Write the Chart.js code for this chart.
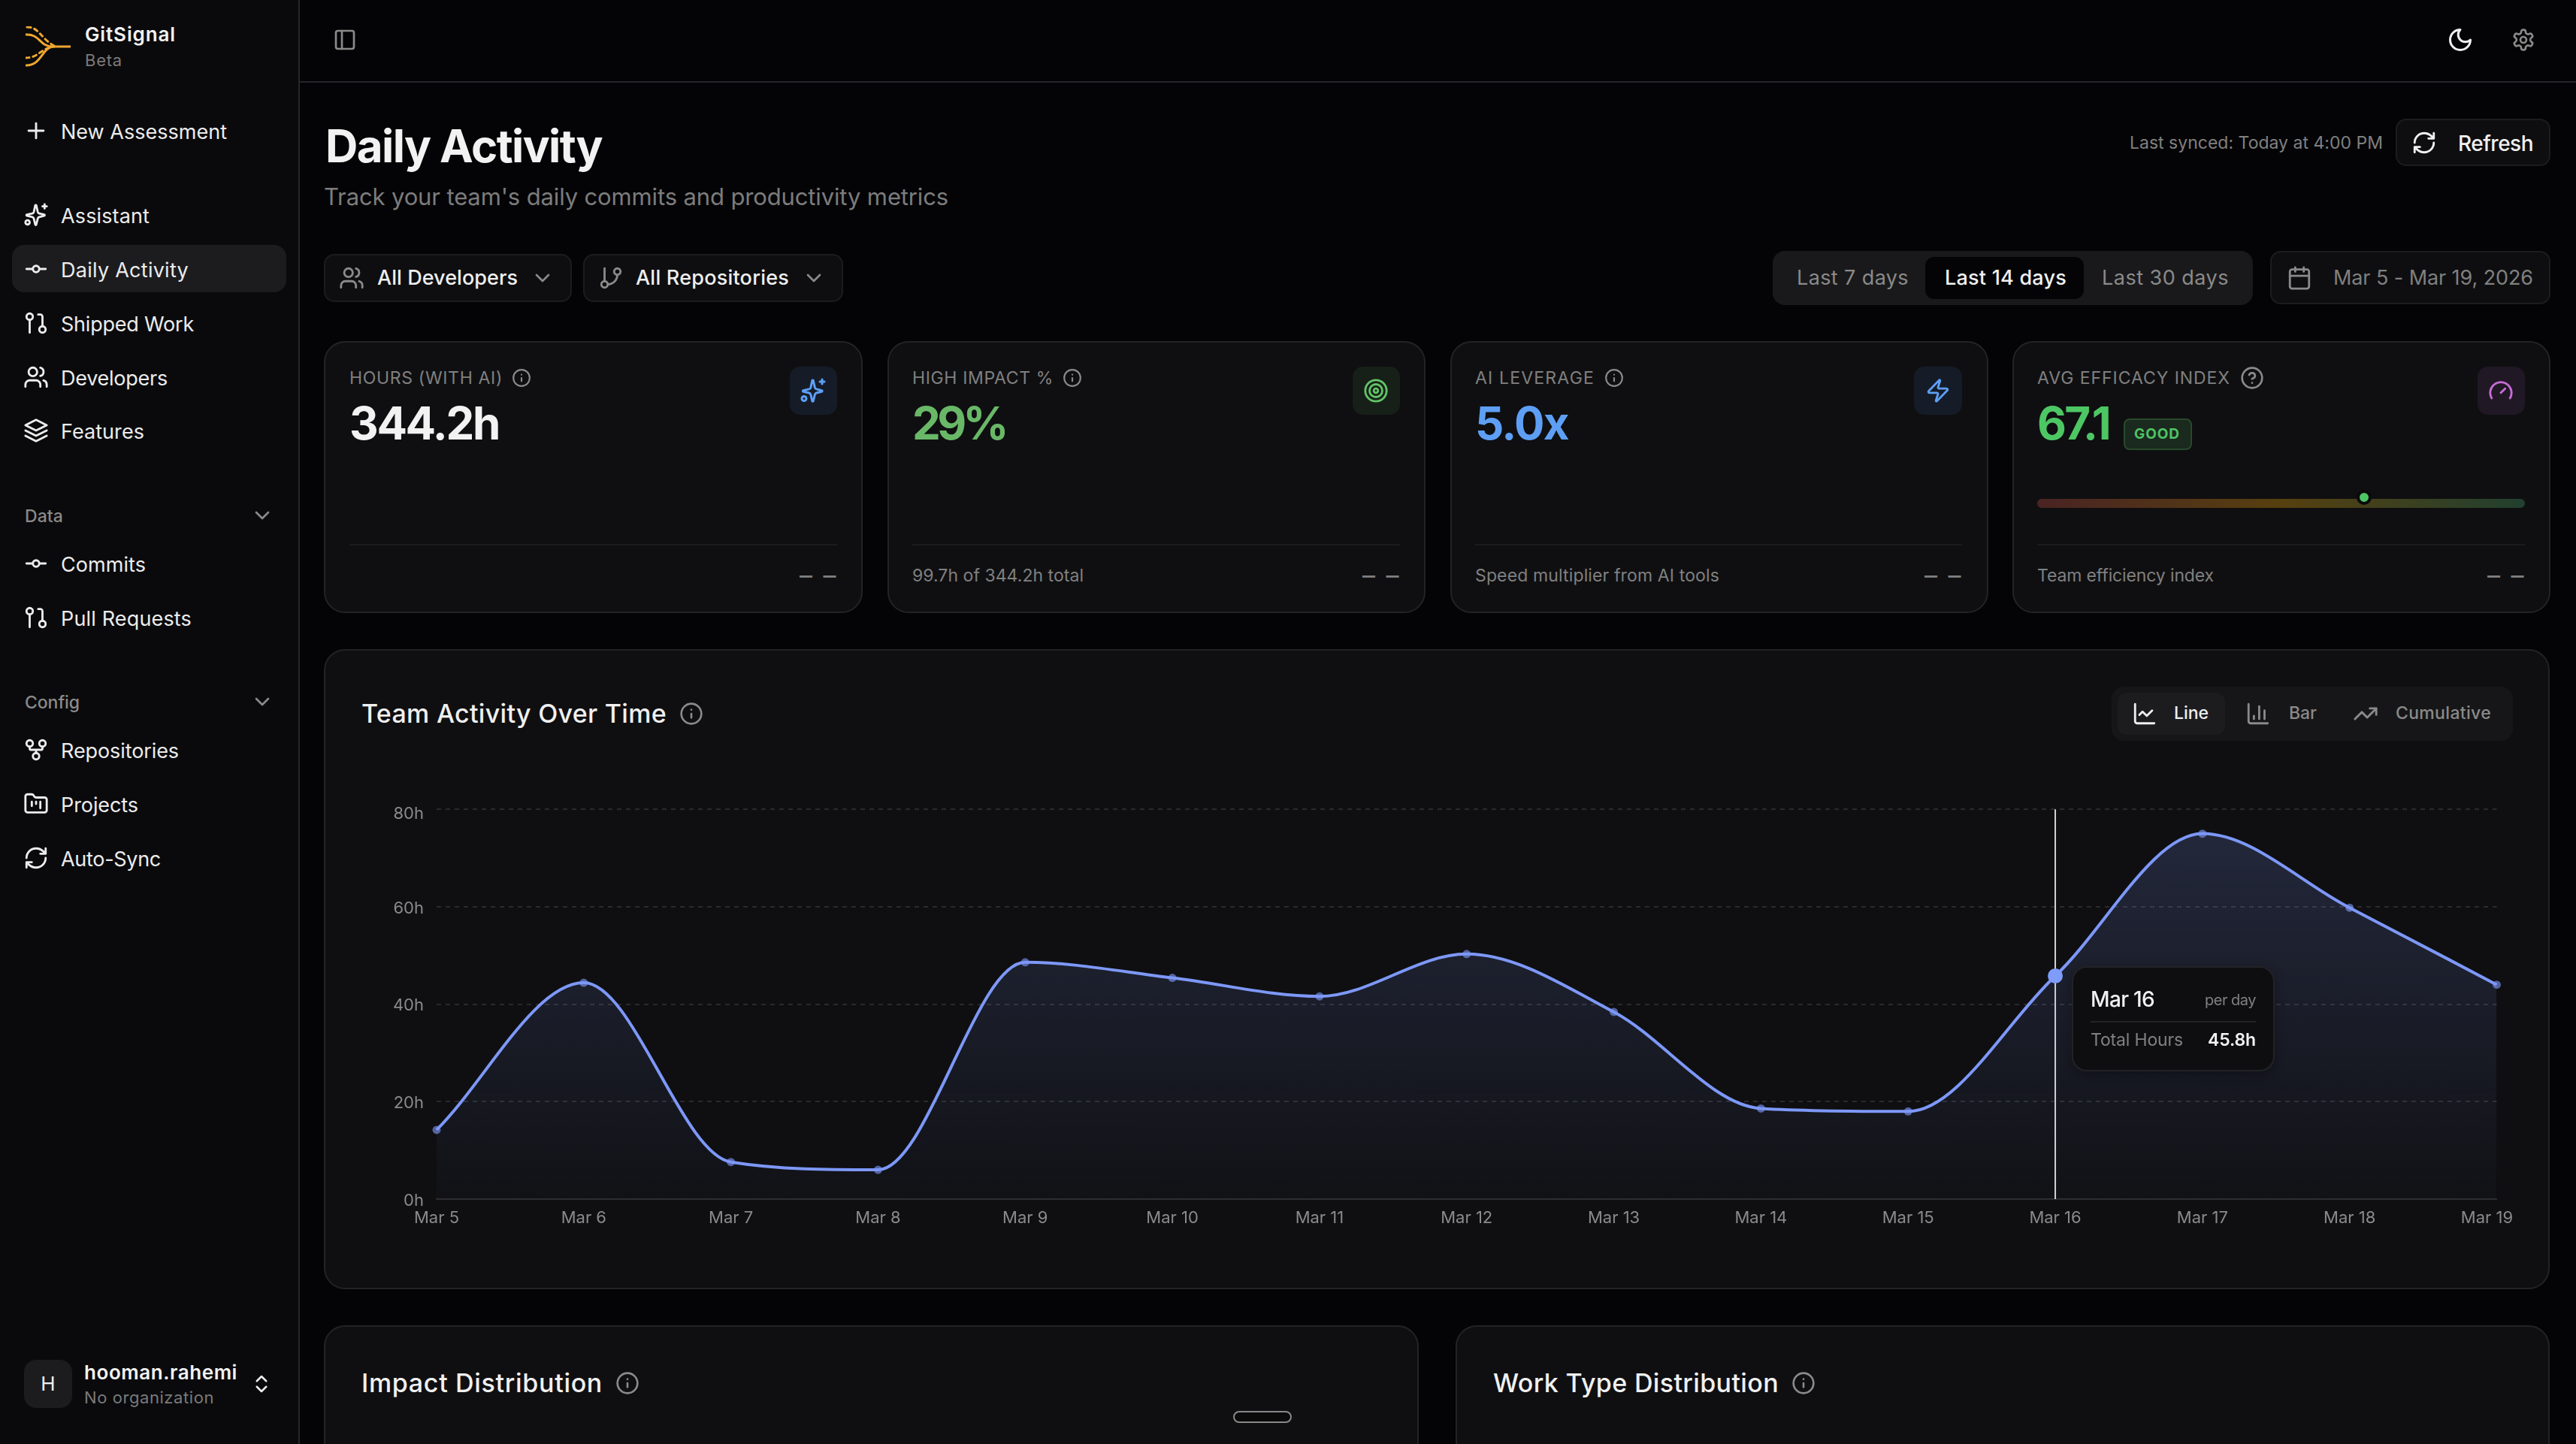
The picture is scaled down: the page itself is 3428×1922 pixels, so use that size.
<!DOCTYPE html>
<html lang="en">
<head>
<meta charset="UTF-8">
<title>GitSignal - Daily Activity</title>
<script src="https://cdn.jsdelivr.net/npm/chart.js"></script>
<style>
    html, body { margin: 0; padding: 0; background: #040406; }
    body { position: relative; width: 3428px; height: 1922px; overflow: hidden; font-family: Inter, "Noto Sans", sans-serif; color: #eeeeee; }
    .t { position: absolute; white-space: nowrap; transform: translateY(-50%); line-height: 1.2; }
    .i { position: absolute; transform: translate(-50%, -50%); fill: none; stroke: currentColor; stroke-width: 2; stroke-linecap: round; stroke-linejoin: round; }
    .box { position: absolute; box-sizing: border-box; }
    .card { background: #0f0f11; border: 2px solid #232326; border-radius: 28px; }
    .btn { background: #0e0e10; border: 2px solid #1c1c1f; border-radius: 14px; }
    .nav { font-size: 27px; color: #ececec; margin-top: 2px; }
    .nav-i { color: #ececec; }
    .sec { font-size: 23px; font-weight: 500; color: #8a8a8a; margin-top: 2px; }
    .label { font-size: 23px; color: #808080; margin-top: 1px; }
    .value { font-size: 60px; font-weight: 700; }
    .foot { font-size: 23px; color: #808080; margin-top: 1px; }
    .dash { font-size: 34px; color: #808080; }
    .h2 { font-size: 34px; font-weight: 500; color: #f0f0f0; }
    .tile { border-radius: 14px; }
    .rule { background: #1b1b1e; height: 2px; }
    #tip { position: absolute; width: 270px; height: 140px; box-sizing: border-box; background: #0e0e10; border: 2px solid #232326; border-radius: 20px; box-shadow: 0 4px 14px rgba(0,0,0,.3); }
</style>
</head>
<body>
<svg width="0" height="0" style="position:absolute">
    <symbol id="plus" viewBox="0 0 24 24"><path d="M5 12h14M12 5v14"/></symbol>
    <symbol id="sparkles" viewBox="0 0 24 24"><path d="M9.9 15.5A2 2 0 0 0 8.5 14l-5.1-1.2a.5.5 0 0 1 0-1L8.5 10.6A2 2 0 0 0 9.9 9.2l1.3-6a.5.5 0 0 1 1 0L13.6 9.2A2 2 0 0 0 15 10.6l4.6 1.2a.5.5 0 0 1 0 1L15 14a2 2 0 0 0-1.4 1.4l-1.4 5.6a.5.5 0 0 1-1 0z"/><path d="M20 2v4M22 4h-4"/><circle cx="4" cy="19" r="2"/></symbol>
    <symbol id="commit" viewBox="0 0 24 24"><circle cx="12" cy="12" r="3"/><path d="M3 12h6M15 12h6"/></symbol>
    <symbol id="pull" viewBox="0 0 24 24"><circle cx="6" cy="6" r="3"/><path d="M6 9v12"/><circle cx="18" cy="18" r="3"/><path d="M14 4h2a2 2 0 0 1 2 2v9"/></symbol>
    <symbol id="users" viewBox="0 0 24 24"><path d="M16 21v-2a4 4 0 0 0-4-4H6a4 4 0 0 0-4 4v2"/><circle cx="9" cy="7" r="4"/><path d="M22 21v-2a4 4 0 0 0-3-3.87M16 3.13a4 4 0 0 1 0 7.75"/></symbol>
    <symbol id="layers" viewBox="0 0 24 24"><path d="M12 2 2 7l10 5 10-5-10-5z"/><path d="M2 17l10 5 10-5"/><path d="M2 12l10 5 10-5"/></symbol>
    <symbol id="down" viewBox="0 0 24 24"><path d="m6 9 6 6 6-6"/></symbol>
    <symbol id="fork" viewBox="0 0 24 24"><circle cx="12" cy="18" r="3"/><circle cx="6" cy="6" r="3"/><circle cx="18" cy="6" r="3"/><path d="M18 9v2c0 .6-.4 1-1 1H7c-.6 0-1-.4-1-1V9M12 12v3"/></symbol>
    <symbol id="branch" viewBox="0 0 24 24"><path d="M6 3v12"/><circle cx="18" cy="6" r="3"/><circle cx="6" cy="18" r="3"/><path d="M18 9a9 9 0 0 1-9 9"/></symbol>
    <symbol id="folder" viewBox="0 0 24 24"><path d="M4 20h16a2 2 0 0 0 2-2V8a2 2 0 0 0-2-2h-7.93a2 2 0 0 1-1.66-.9l-.82-1.2A2 2 0 0 0 7.93 3H4a2 2 0 0 0-2 2v13c0 1.1.9 2 2 2Z"/><path d="M8 10v4M12 10v2M16 10v6"/></symbol>
    <symbol id="refresh" viewBox="0 0 24 24"><path d="M3 12a9 9 0 0 1 9-9 9.75 9.75 0 0 1 6.74 2.74L21 8M21 3v5h-5M21 12a9 9 0 0 1-9 9 9.75 9.75 0 0 1-6.74-2.74L3 16M8 16H3v5"/></symbol>
    <symbol id="updown" viewBox="0 0 24 24"><path d="m7 15 5 5 5-5M7 9l5-5 5 5"/></symbol>
    <symbol id="panel" viewBox="0 0 24 24"><rect x="3" y="3" width="18" height="18" rx="2"/><path d="M9 3v18"/></symbol>
    <symbol id="moon" viewBox="0 0 24 24"><path d="M12 3a6 6 0 0 0 9 9 9 9 0 1 1-9-9Z"/></symbol>
    <symbol id="gear" viewBox="0 0 24 24"><path d="M12.22 2h-.44a2 2 0 0 0-2 2v.18a2 2 0 0 1-1 1.73l-.43.25a2 2 0 0 1-2 0l-.15-.08a2 2 0 0 0-2.73.73l-.22.38a2 2 0 0 0 .73 2.73l.15.1a2 2 0 0 1 1 1.72v.51a2 2 0 0 1-1 1.74l-.15.09a2 2 0 0 0-.73 2.73l.22.38a2 2 0 0 0 2.73.73l.15-.08a2 2 0 0 1 2 0l.43.25a2 2 0 0 1 1 1.73V20a2 2 0 0 0 2 2h.44a2 2 0 0 0 2-2v-.18a2 2 0 0 1 1-1.73l.43-.25a2 2 0 0 1 2 0l.15.08a2 2 0 0 0 2.73-.73l.22-.39a2 2 0 0 0-.73-2.73l-.15-.08a2 2 0 0 1-1-1.74v-.5a2 2 0 0 1 1-1.74l.15-.09a2 2 0 0 0 .73-2.73l-.22-.38a2 2 0 0 0-2.73-.73l-.15.08a2 2 0 0 1-2 0l-.43-.25a2 2 0 0 1-1-1.73V4a2 2 0 0 0-2-2z"/><circle cx="12" cy="12" r="3"/></symbol>
    <symbol id="info" viewBox="0 0 24 24"><circle cx="12" cy="12" r="10"/><path d="M12 16v-4M12 8h.01"/></symbol>
    <symbol id="help" viewBox="0 0 24 24"><circle cx="12" cy="12" r="10"/><path d="M9.09 9a3 3 0 0 1 5.83 1c0 2-3 3-3 3M12 17h.01"/></symbol>
    <symbol id="target" viewBox="0 0 24 24"><circle cx="12" cy="12" r="10"/><circle cx="12" cy="12" r="6"/><circle cx="12" cy="12" r="2"/></symbol>
    <symbol id="zap" viewBox="0 0 24 24"><path d="M4 14a1 1 0 0 1-.78-1.63l9.9-10.2a.5.5 0 0 1 .86.46l-1.92 6.02A1 1 0 0 0 13 10h7a1 1 0 0 1 .78 1.63l-9.9 10.2a.5.5 0 0 1-.86-.46l1.92-6.02A1 1 0 0 0 11 14z"/></symbol>
    <symbol id="gauge" viewBox="0 0 24 24"><path d="m12 14 4-4M3.34 19a10 10 0 1 1 17.32 0"/></symbol>
    <symbol id="calendar" viewBox="0 0 24 24"><path d="M8 2v4M16 2v4"/><rect x="3" y="4" width="18" height="18" rx="2"/><path d="M3 10h18"/></symbol>
    <symbol id="chartline" viewBox="0 0 24 24"><path d="M3 3v16a2 2 0 0 0 2 2h16"/><path d="m19 9-5 5-4-4-3 3"/></symbol>
    <symbol id="chartbar" viewBox="0 0 24 24"><path d="M3 3v16a2 2 0 0 0 2 2h16"/><path d="M8 17v-3M13 17V5M18 17V9"/></symbol>
    <symbol id="trend" viewBox="0 0 24 24"><path d="M22 7l-8.5 8.5-5-5L2 17"/><path d="M16 7h6v6"/></symbol>
</svg>

<!-- Sidebar -->
<div class="box" style="left:0;top:0;width:399px;height:1922px;background:#0a0a0c;border-right:2px solid #26262a"></div>
<svg class="box" style="left:34px;top:35px" width="60" height="54" viewBox="0 0 60 54" fill="none" stroke="#f0a72f" stroke-width="3" stroke-linecap="round">
    <path d="M0 11C20 10 18 27 36 27H60"/>
    <path d="M1 52C22 52 22 27 38 27"/>
    <path d="M2 1C18 1 20 16 38 26" stroke-dasharray="5 5"/>
    <path d="M0 42C14 42 18 34 30 29" stroke-dasharray="5 5"/>
</svg>
<div class="t" data-w="121" style="left:113px;top:46px;font-size:26px;font-weight:600;color:#f2f2f2">GitSignal</div>
<div class="t" data-w="50" style="left:113px;top:80px;font-size:22px;color:#7a7a7a">Beta</div>

<svg class="i nav-i" style="left:48px;top:174px" width="34" height="34"><use href="#plus"/></svg>
<div class="t nav" data-w="221" style="left:81px;top:174px">New Assessment</div>

<div class="box" style="left:16px;top:326px;width:365px;height:63px;background:#1c1c1f;border-radius:16px"></div>
<svg class="i nav-i" style="left:48px;top:286px" width="34" height="34"><use href="#sparkles"/></svg>
<div class="t nav" data-w="118" style="left:81px;top:286px">Assistant</div>
<svg class="i nav-i" style="left:48px;top:358px" width="34" height="34"><use href="#commit"/></svg>
<div class="t nav" data-w="170" style="left:81px;top:358px">Daily Activity</div>
<svg class="i nav-i" style="left:48px;top:430px" width="34" height="34"><use href="#pull"/></svg>
<div class="t nav" data-w="177" style="left:81px;top:430px">Shipped Work</div>
<svg class="i nav-i" style="left:48px;top:502px" width="34" height="34"><use href="#users"/></svg>
<div class="t nav" data-w="142" style="left:81px;top:502px">Developers</div>
<svg class="i nav-i" style="left:48px;top:573px" width="34" height="34"><use href="#layers"/></svg>
<div class="t nav" data-w="111" style="left:81px;top:573px">Features</div>

<div class="t sec" data-w="51" style="left:33px;top:686px">Data</div>
<svg class="i" style="left:349px;top:686px;color:#8a8a8a" width="32" height="32"><use href="#down"/></svg>
<svg class="i nav-i" style="left:48px;top:750px" width="34" height="34"><use href="#commit"/></svg>
<div class="t nav" data-w="113" style="left:81px;top:750px">Commits</div>
<svg class="i nav-i" style="left:48px;top:822px" width="34" height="34"><use href="#pull"/></svg>
<div class="t nav" data-w="174" style="left:81px;top:822px">Pull Requests</div>

<div class="t sec" data-w="73" style="left:33px;top:934px">Config</div>
<svg class="i" style="left:349px;top:934px;color:#8a8a8a" width="32" height="32"><use href="#down"/></svg>
<svg class="i nav-i" style="left:48px;top:998px" width="34" height="34"><use href="#fork"/></svg>
<div class="t nav" data-w="157" style="left:81px;top:998px">Repositories</div>
<svg class="i nav-i" style="left:48px;top:1070px" width="34" height="34"><use href="#folder"/></svg>
<div class="t nav" data-w="103" style="left:81px;top:1070px">Projects</div>
<svg class="i nav-i" style="left:48px;top:1142px" width="34" height="34"><use href="#refresh"/></svg>
<div class="t nav" data-w="133" style="left:81px;top:1142px">Auto-Sync</div>

<div class="box" style="left:32px;top:1810px;width:64px;height:64px;background:#1c1c1f;border-radius:16px"></div>
<div class="t" style="left:64px;top:1842px;font-size:26px;color:#eeeeee;transform:translate(-50%,-50%)">H</div>
<div class="t" data-w="204" style="left:112px;top:1827px;font-size:26px;font-weight:600;color:#f2f2f2">hooman.rahemi</div>
<div class="t" data-w="173" style="left:112px;top:1860px;font-size:22px;color:#7a7a7a">No organization</div>
<svg class="i" style="left:348px;top:1842px;color:#eeeeee" width="30" height="30"><use href="#updown"/></svg>

<!-- Top bar -->
<div class="box" style="left:399px;top:108px;width:3029px;height:2px;background:#26262a"></div>
<svg class="i" style="left:459px;top:53px;color:#8a8a8a" width="32" height="32"><use href="#panel"/></svg>
<svg class="i" style="left:3274px;top:53px;color:#f0f0f0" width="36" height="36"><use href="#moon"/></svg>
<svg class="i" style="left:3358px;top:53px;color:#8a8a8a" width="32" height="32"><use href="#gear"/></svg>

<!-- Page header -->
<div class="t" data-w="368" style="left:433px;top:194px;font-size:60px;font-weight:700;color:#f2f2f2">Daily Activity</div>
<div class="t" data-w="831" style="left:431px;top:262px;font-size:31px;color:#7c7c7c">Track your team's daily commits and productivity metrics</div>
<div class="t" data-w="337" style="left:2834px;top:191px;font-size:23px;color:#808080">Last synced: Today at 4:00 PM</div>
<div class="box btn" style="left:3188px;top:158px;width:206px;height:63px"></div>
<svg class="i" style="left:3226px;top:190px;color:#f0f0f0" width="34" height="34"><use href="#refresh"/></svg>
<div class="t" data-w="100" style="left:3271px;top:192px;font-size:28px;font-weight:500;color:#f0f0f0">Refresh</div>

<!-- Filters -->
<div class="box btn" style="left:431px;top:338px;width:330px;height:64px"></div>
<svg class="i" style="left:468px;top:370px;color:#8a8a8a" width="34" height="34"><use href="#users"/></svg>
<div class="t" data-w="187" style="left:502px;top:370px;font-size:27px;font-weight:500;color:#eeeeee">All Developers</div>
<svg class="i" style="left:722px;top:370px;color:#8a8a8a" width="32" height="32"><use href="#down"/></svg>
<div class="box btn" style="left:776px;top:338px;width:346px;height:64px"></div>
<svg class="i" style="left:813px;top:370px;color:#8a8a8a" width="34" height="34"><use href="#branch"/></svg>
<div class="t" data-w="204" style="left:846px;top:370px;font-size:27px;font-weight:500;color:#eeeeee">All Repositories</div>
<svg class="i" style="left:1083px;top:370px;color:#8a8a8a" width="32" height="32"><use href="#down"/></svg>

<div class="box" style="left:2359px;top:334px;width:639px;height:72px;background:#19191b;border-radius:16px"></div>
<div class="box" style="left:2562px;top:342px;width:211px;height:56px;background:#040406;border-radius:12px"></div>
<div class="t" data-w="149" style="left:2391px;top:370px;font-size:27px;color:#8a8a8a">Last 7 days</div>
<div class="t" data-w="162" style="left:2588px;top:370px;font-size:27px;font-weight:500;color:#f0f0f0">Last 14 days</div>
<div class="t" data-w="169" style="left:2797px;top:370px;font-size:27px;color:#8a8a8a">Last 30 days</div>
<div class="box btn" style="left:3021px;top:334px;width:373px;height:71px"></div>
<svg class="i" style="left:3060px;top:370px;color:#8a8a8a" width="34" height="34"><use href="#calendar"/></svg>
<div class="t" data-w="266" style="left:3105px;top:370px;font-size:27px;color:#808080">Mar 5 - Mar 19, 2026</div>

<!-- KPI cards -->
<div class="box card" style="left:431px;top:454px;width:717px;height:362px"></div>
<div class="box card" style="left:1181px;top:454px;width:716px;height:362px"></div>
<div class="box card" style="left:1930px;top:454px;width:716px;height:362px"></div>
<div class="box card" style="left:2678px;top:454px;width:716px;height:362px"></div>

<div class="t label" data-w="204" style="left:465px;top:503px">HOURS (WITH AI)</div>
<svg class="i" style="left:694px;top:503px;color:#8a8a8a" width="26" height="26"><use href="#info"/></svg>
<div class="t value" data-w="199" style="left:465px;top:563px;color:#f2f2f2">344.2h</div>
<div class="box tile" style="left:1051px;top:488px;width:63px;height:64px;background:#151c28"></div>
<svg class="i" style="left:1082px;top:520px;color:#5e9ff5" width="36" height="36"><use href="#sparkles"/></svg>
<div class="box rule" style="left:465px;top:724px;width:649px"></div>
<div class="t dash" data-w="51" style="right:2313px;top:766px">– –</div>

<div class="t label" data-w="188" style="left:1214px;top:503px">HIGH IMPACT %</div>
<svg class="i" style="left:1427px;top:503px;color:#8a8a8a" width="26" height="26"><use href="#info"/></svg>
<div class="t value" data-w="124" style="left:1214px;top:563px;color:#69b868">29%</div>
<div class="box tile" style="left:1800px;top:488px;width:63px;height:64px;background:#172018"></div>
<svg class="i" style="left:1831px;top:520px;color:#62c467" width="34" height="34"><use href="#target"/></svg>
<div class="box rule" style="left:1214px;top:724px;width:649px"></div>
<div class="t foot" data-w="228" style="left:1214px;top:766px">99.7h of 344.2h total</div>
<div class="t dash" data-w="51" style="right:1564px;top:766px">– –</div>

<div class="t label" data-w="159" style="left:1963px;top:503px">AI LEVERAGE</div>
<svg class="i" style="left:2148px;top:503px;color:#8a8a8a" width="26" height="26"><use href="#info"/></svg>
<div class="t value" data-w="124" style="left:1963px;top:563px;color:#5e9ff5">5.0x</div>
<div class="box tile" style="left:2547px;top:488px;width:64px;height:64px;background:#151c28"></div>
<svg class="i" style="left:2579px;top:520px;color:#5e9ff5" width="34" height="34"><use href="#zap"/></svg>
<div class="box rule" style="left:1963px;top:724px;width:648px"></div>
<div class="t foot" data-w="325" style="left:1963px;top:766px">Speed multiplier from AI tools</div>
<div class="t dash" data-w="51" style="right:816px;top:766px">– –</div>

<div class="t label" data-w="257" style="left:2711px;top:503px">AVG EFFICACY INDEX</div>
<svg class="i" style="left:2997px;top:503px;color:#8a8a8a" width="32" height="32"><use href="#help"/></svg>
<div class="t value" data-w="96" style="left:2711px;top:563px;color:#4dc764">67.1</div>
<div class="box" style="left:2826px;top:557px;width:91px;height:42px;background:#1a2a1e;border:2px solid #274a2c;border-radius:8px"></div>
<div class="t" data-w="61" style="left:2840px;top:578px;font-size:19px;font-weight:700;color:#4fc365">GOOD</div>
<div class="box" style="left:3297px;top:488px;width:63px;height:64px;background:#211825;border-radius:14px"></div>
<svg class="i" style="left:3328px;top:520px;color:#c86dd7" width="34" height="34"><use href="#gauge"/></svg>
<div class="box" style="left:2711px;top:664px;width:649px;height:12px;border-radius:6px;background:linear-gradient(90deg,#4a2323,#57400f 50%,#21402f)"></div>
<div class="box" style="left:3136px;top:652px;width:20px;height:20px;background:#4dc764;border:4px solid #0a0a0c;border-radius:50%"></div>
<div class="box rule" style="left:2711px;top:724px;width:649px"></div>
<div class="t foot" data-w="235" style="left:2711px;top:766px">Team efficiency index</div>
<div class="t dash" data-w="51" style="right:67px;top:766px">– –</div>

<!-- Team activity card -->
<div class="box card" style="left:431px;top:864px;width:2962px;height:852px"></div>
<div class="t h2" data-w="406" style="left:481px;top:950px">Team Activity Over Time</div>
<svg class="i" style="left:920px;top:950px;color:#8a8a8a" width="32" height="32"><use href="#info"/></svg>
<div class="box" style="left:2810px;top:914px;width:534px;height:72px;background:#161618;border-radius:16px"></div>
<div class="box" style="left:2818px;top:922px;width:143px;height:56px;background:#1c1c1f;border-radius:12px"></div>
<svg class="i" style="left:2854px;top:950px;color:#eeeeee" width="34" height="34"><use href="#chartline"/></svg>
<div class="t" data-w="46" style="left:2893px;top:950px;font-size:23px;font-weight:500;color:#eeeeee">Line</div>
<svg class="i" style="left:3005px;top:950px;color:#8a8a8a" width="34" height="34"><use href="#chartbar"/></svg>
<div class="t" data-w="37" style="left:3046px;top:950px;font-size:23px;font-weight:500;color:#8a8a8a">Bar</div>
<svg class="i" style="left:3148px;top:950px;color:#8a8a8a" width="34" height="34"><use href="#trend"/></svg>
<div class="t" data-w="127" style="left:3188px;top:950px;font-size:23px;font-weight:500;color:#8a8a8a">Cumulative</div>

<canvas id="activityChart" width="2880" height="613" style="position:absolute;left:500px;top:1047px;width:2880px;height:613px"></canvas>

<div id="tip">
    <div class="t" id="tipDay" data-w="85" style="left:23px;top:43px;font-size:28px;font-weight:500;color:#f2f2f2"></div>
    <div class="t" id="tipUnit" data-w="68" style="right:23px;top:43px;font-size:20px;color:#808080"></div>
    <div class="box" style="left:23px;right:23px;top:71px;height:2px;background:#232326"></div>
    <div class="t" id="tipName" data-w="123" style="left:23px;top:97px;font-size:23px;color:#808080"></div>
    <div class="t" id="tipValue" data-w="64" style="right:23px;top:97px;font-size:23px;font-weight:600;color:#f2f2f2"></div>
</div>

<!-- Lower cards, cut off by the window -->
<div class="box card" style="left:431px;top:1764px;width:1457px;height:300px"></div>
<div class="t h2" data-w="321" style="left:481px;top:1841px">Impact Distribution</div>
<svg class="i" style="left:835px;top:1841px;color:#8a8a8a" width="32" height="32"><use href="#info"/></svg>
<div class="box" style="left:1641px;top:1878px;width:78px;height:16px;background:#0a0a0a;border:2px solid #888888;border-radius:8px"></div>
<div class="box card" style="left:1937px;top:1764px;width:1456px;height:300px"></div>
<div class="t h2" data-w="380" style="left:1987px;top:1841px">Work Type Distribution</div>
<svg class="i" style="left:2400px;top:1841px;color:#8a8a8a" width="32" height="32"><use href="#info"/></svg>

<script>
    const days = ['Mar 5', 'Mar 6', 'Mar 7', 'Mar 8', 'Mar 9', 'Mar 10', 'Mar 11', 'Mar 12', 'Mar 13', 'Mar 14', 'Mar 15', 'Mar 16', 'Mar 17', 'Mar 18', 'Mar 19'];
    const totalHours = [14.2, 44.4, 7.6, 6.0, 48.6, 45.4, 41.6, 50.3, 38.4, 18.6, 18.0, 45.8, 75.0, 59.8, 44.0];
    const hourTicks = [0, 20, 40, 60, 80];
    const seriesName = 'Total Hours';
    const tooltipUnit = 'per day';
    const hoveredDay = 'Mar 16';

    const hoveredIndex = days.indexOf(hoveredDay);
    const tickFont = { family: 'Inter', size: 22 };

    function areaFill(context) {
        const chart = context.chart;
        if (!chart.chartArea) return 'transparent';
        const top = chart.scales.y.getPixelForValue(Math.max(...totalHours));
        const bottom = chart.scales.y.getPixelForValue(0);
        const gradient = chart.ctx.createLinearGradient(0, top, 0, bottom);
        gradient.addColorStop(0, 'rgba(125,152,248,0.18)');
        gradient.addColorStop(1, 'rgba(125,152,248,0.025)');
        return gradient;
    }

    // crosshair and html tooltip for the hovered day
    const hoverMarker = {
        id: 'hoverMarker',
        beforeDatasetsDraw(chart) {
            const x = chart.scales.x.getPixelForValue(hoveredIndex);
            const ctx = chart.ctx;
            ctx.save();
            ctx.strokeStyle = '#d4d4d4';
            ctx.lineWidth = 2;
            ctx.beginPath();
            ctx.moveTo(x, chart.chartArea.top);
            ctx.lineTo(x, chart.chartArea.bottom);
            ctx.stroke();
            ctx.restore();
        },
        afterRender(chart) {
            const canvas = chart.canvas;
            const tip = document.getElementById('tip');
            tip.style.left = (canvas.offsetLeft + chart.scales.x.getPixelForValue(hoveredIndex) + 22) + 'px';
            tip.style.top = (canvas.offsetTop + chart.scales.y.getPixelForValue(totalHours[hoveredIndex]) - 13) + 'px';
        }
    };

    // keep the outer tick labels inside the plot like the design does
    const tickNudge = {
        id: 'tickNudge',
        beforeDraw(chart) {
            const xItems = chart.scales.x.getLabelItems();
            xItems[xItems.length - 1].options.translation[0] -= 13;
            chart.scales.y.getLabelItems().forEach((item, i) => {
                item.options.translation[1] += chart.scales.y.ticks[i].value === 80 ? 6 : 2;
            });
        }
    };

    new Chart(document.getElementById('activityChart'), {
        type: 'line',
        plugins: [hoverMarker, tickNudge],
        data: {
            labels: days,
            datasets: [
                {
                    label: seriesName,
                    data: totalHours,
                    order: 1,
                    clip: false,
                    borderColor: '#7d98f8',
                    borderWidth: 4,
                    cubicInterpolationMode: 'monotone',
                    fill: 'origin',
                    backgroundColor: areaFill,
                    pointRadius: ctx => ctx.dataIndex === hoveredIndex ? 10 : 0,
                    pointBorderWidth: 0,
                    pointBackgroundColor: '#7f9cfb'
                },
                {
                    label: seriesName + ' points',
                    data: totalHours,
                    order: 2,
                    clip: false,
                    showLine: false,
                    pointRadius: 5.5,
                    pointBorderWidth: 0,
                    pointBackgroundColor: 'rgba(125,152,248,0.62)'
                }
            ]
        },
        options: {
            responsive: false,
            animation: false,
            devicePixelRatio: 1,
            layout: { padding: { top: 16, right: 57.5, left: 0, bottom: 0 } },
            plugins: { legend: { display: false }, tooltip: { enabled: false } },
            scales: {
                x: {
                    grid: { display: false, drawTicks: false },
                    border: { display: true, color: '#2c2c30', width: 2 },
                    ticks: { color: '#8a8a8a', font: tickFont, padding: 12, maxRotation: 0, autoSkip: false },
                    afterFit(scale) { scale.height = 64; }
                },
                y: {
                    min: 0,
                    max: 80,
                    afterBuildTicks(scale) { scale.ticks = hourTicks.map(value => ({ value })); },
                    grid: {
                        drawTicks: false,
                        lineWidth: 2,
                        color: ctx => ctx.tick.value === 0 ? 'transparent' : '#2a2a2e'
                    },
                    border: { display: false, dash: [6, 6] },
                    ticks: { color: '#8a8a8a', font: tickFont, padding: 17, callback: v => v + 'h' },
                    afterFit(scale) { scale.width = 81; }
                }
            }
        }
    });

    document.getElementById('tipDay').textContent = hoveredDay;
    document.getElementById('tipUnit').textContent = tooltipUnit;
    document.getElementById('tipName').textContent = seriesName;
    document.getElementById('tipValue').textContent = totalHours[hoveredIndex].toFixed(1) + 'h';

    // Nudge letter spacing so each text run is as wide as in the design
    document.querySelectorAll('[data-w]').forEach(el => {
        const n = el.textContent.length;
        const diff = Number(el.dataset.w) - el.getBoundingClientRect().width;
        el.style.letterSpacing = (diff / n).toFixed(3) + 'px';
    });
</script>
</body>
</html>
